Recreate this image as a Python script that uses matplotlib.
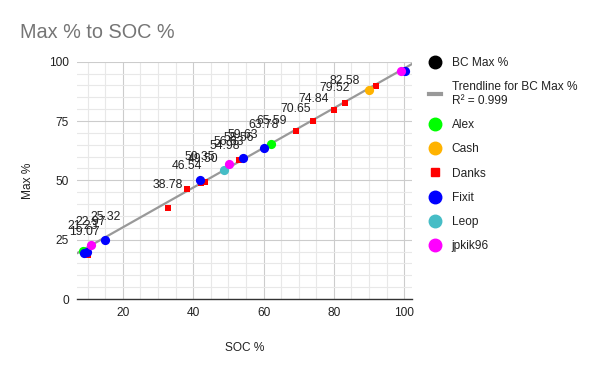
import numpy as np
import matplotlib
matplotlib.use("Agg")
import matplotlib.pyplot as plt
from matplotlib.lines import Line2D

plt.rcParams['font.family'] = ['Liberation Sans', 'DejaVu Sans']

# BC Max % (labelled series, markers sit under the per-person points)
bc_soc = [8.6, 9.0, 10.9, 15.0, 32.9, 38.2, 42.0, 42.8, 48.9, 50.1,
          53.0, 54.1, 60.1, 62.2, 69.1, 74.1, 80.1, 83.2]
bc_max = [21.23, 19.07, 22.97, 25.32, 38.78, 46.54, 50.35, 49.50, 54.98, 56.63,
          58.56, 59.63, 63.78, 65.59, 70.65, 74.84, 79.52, 82.58]

# per-person series
alex_soc = [8.6, 62.2]
alex_max = [20.4, 65.4]
cash_soc = [90.1]
cash_max = [88.2]
danks_soc = [10.2, 32.9, 38.2, 42.3, 43.3, 53.0, 69.1, 74.1, 80.1, 83.2, 92.1]
danks_max = [18.6, 38.5, 46.3, 48.8, 49.2, 58.4, 70.6, 75.0, 79.5, 82.7, 89.6]
fixit_soc = [9.0, 9.9, 15.0, 42.0, 54.1, 60.1, 100.3]
fixit_max = [19.3, 19.9, 24.9, 50.2, 59.6, 63.6, 95.9]
leop_soc = [48.9]
leop_max = [54.4]
jp_soc = [10.9, 50.1, 99.2]
jp_max = [22.8, 56.8, 95.9]

r2_text = 'R² = 0.999'

fig = plt.figure(figsize=(6, 3.71), dpi=100)
ax = fig.add_axes([77 / 600, 1 - 299 / 371, (412 - 77) / 600, (299 - 61.7) / 371])

xmin, xmax = 7.0, 102.2
ax.set_xlim(xmin, xmax)
ax.set_ylim(0, 100)

# grid
ax.set_xticks([20, 40, 60, 80, 100])
ax.set_xticks(np.arange(10, 101, 5), minor=True)
ax.set_yticks([0, 25, 50, 75, 100])
ax.set_yticks(np.arange(0, 101, 5), minor=True)
ax.grid(which='major', color='#cccccc', linewidth=0.8)
ax.grid(which='minor', color='#e8e8e8', linewidth=0.8)
ax.set_axisbelow(True)
ax.tick_params(which='both', length=0, labelsize=8.6, colors='#222222', pad=6)
for s in ['top', 'right', 'left']:
    ax.spines[s].set_visible(False)
ax.spines['bottom'].set_color('#333333')
ax.spines['bottom'].set_linewidth(1)

# trendline (linear fit of BC Max %)
slope, intercept = np.polyfit(bc_soc, bc_max, 1)
tx = np.array([xmin, xmax])
ax.plot(tx, slope * tx + intercept, color='#999999', linewidth=1.6, zorder=2)

circle = dict(marker='o', s=44, linewidths=0, zorder=4)
ax.scatter(alex_soc, alex_max, color='#00ff00', **circle)
ax.scatter(cash_soc, cash_max, color='#ffb300', **circle)
ax.scatter(danks_soc, danks_max, color='#ff0000', marker='s', s=20, linewidths=0, zorder=3)
ax.scatter(fixit_soc, fixit_max, color='#0000ff', **circle)
ax.scatter(leop_soc, leop_max, color='#46bdc6', **circle)
ax.scatter(jp_soc, jp_max, color='#ff00ff', **circle)

# data labels of BC Max %
for sx, my in zip(bc_soc, bc_max):
    ax.annotate(f'{my:.2f}', (sx, my), xytext=(0, 16), textcoords='offset points',
                ha='center', va='center', fontsize=8.8, color='#222222', zorder=5)

ax.set_xlabel('SOC %', fontsize=8.6, color='#222222', labelpad=16)
ax.set_ylabel('Max %', fontsize=8.6, color='#222222', labelpad=11)

fig.text(20 / 600, 1 - 32 / 371, 'Max % to SOC %', fontsize=14.3, color='#757575',
         ha='left', va='center')

# legend
handles = [
    Line2D([], [], marker='o', color='black', linestyle='none', markersize=9),
    Line2D([], [], color='#999999', linewidth=3),
    Line2D([], [], marker='o', color='#00ff00', linestyle='none', markersize=9),
    Line2D([], [], marker='o', color='#ffb300', linestyle='none', markersize=9),
    Line2D([], [], marker='s', color='#ff0000', linestyle='none', markersize=6),
    Line2D([], [], marker='o', color='#0000ff', linestyle='none', markersize=9),
    Line2D([], [], marker='o', color='#46bdc6', linestyle='none', markersize=9),
    Line2D([], [], marker='o', color='#ff00ff', linestyle='none', markersize=9),
]
labels = ['BC Max %', 'Trendline for BC Max %\n' + r2_text, 'Alex', 'Cash',
          'Danks', 'Fixit', 'Leop', 'jpkik96']
fig.legend(handles, labels, loc='upper left', bbox_to_anchor=(429 / 600, 1 - 57 / 371),
           frameon=False, fontsize=8.6, handlelength=1.0, handletextpad=0.9,
           labelspacing=1.02, borderaxespad=0, borderpad=0, labelcolor='#222222')

fig.savefig('out.png', dpi=100)
